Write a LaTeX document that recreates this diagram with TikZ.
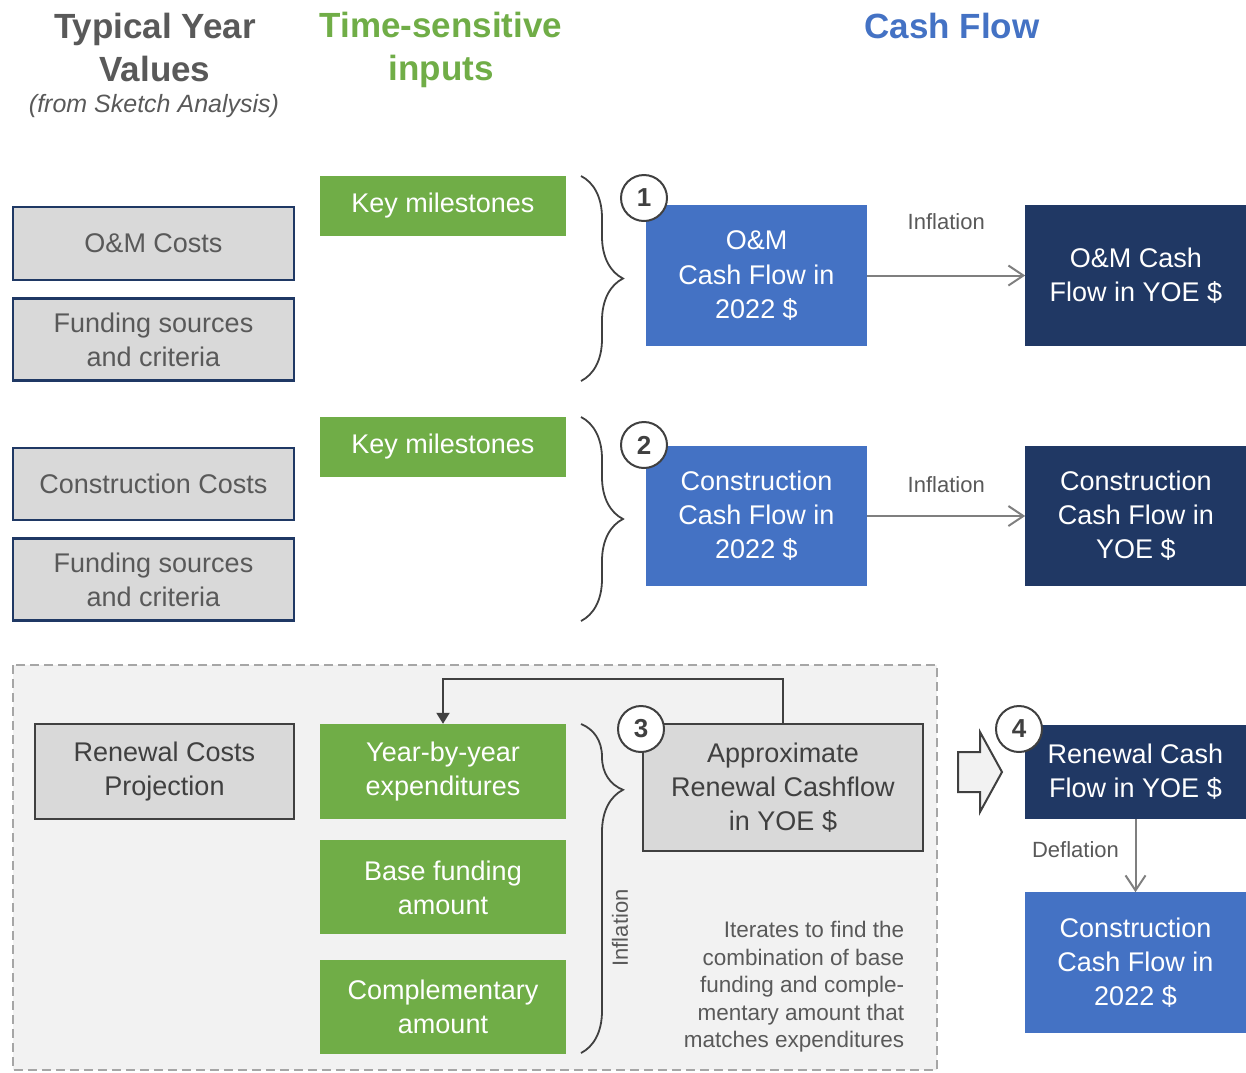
\documentclass[tikz,border=0pt]{standalone}
\usepackage{fontspec}
\setmainfont{Liberation Sans}
\usepackage{xcolor}
\definecolor{tygray}{HTML}{595959}
\definecolor{darkline}{HTML}{404040}
\definecolor{navyline}{HTML}{1F3864}
\definecolor{navyfill}{HTML}{203864}
\definecolor{boxgray}{HTML}{D9D9D9}
\definecolor{ingreen}{HTML}{70AD47}
\definecolor{cfblue}{HTML}{4472C4}
\definecolor{regionfill}{HTML}{F2F2F2}
\definecolor{dashgray}{HTML}{A6A6A6}
\definecolor{arrowgray}{HTML}{7F7F7F}
\usetikzlibrary{positioning,arrows.meta,decorations.pathreplacing}

\begin{document}
\begin{tikzpicture}[x=1pt, y=-1pt,
  body/.style={font=\fontsize{27}{34}\selectfont, align=center, inner sep=0pt},
  costbox/.style={body, draw=navyline, line width=2.5pt, fill=boxgray, text=tygray, minimum width=281pt},
  greybox/.style={body, draw=darkline, line width=2.5pt, fill=boxgray, text=darkline},
  inputbox/.style={body, fill=ingreen, text=white, minimum width=246pt},
  cashbox/.style={body, fill=cfblue, text=white, minimum width=221pt},
  yoebox/.style={body, fill=navyfill, text=white, minimum width=221pt},
  numc/.style={circle, draw=darkline, line width=2pt, fill=white, minimum size=46pt, inner sep=0pt, text=darkline, font=\bfseries\fontsize{26}{26}\selectfont},
  head/.style={font=\bfseries\fontsize{35}{43}\selectfont, align=center, inner sep=0pt},
  lbl/.style={text=tygray, font=\fontsize{22}{26}\selectfont, inner sep=0pt},
  flow/.style={draw=arrowgray, line width=2pt, -{Straight Barb[length=15pt,width=20pt]}},
  brc/.style={decorate, decoration={brace, amplitude=42pt}, draw=darkline, line width=1.8pt}]

\useasboundingbox (0,0) rectangle (1246,1072);

% renewal region
\draw[fill=regionfill, draw=dashgray, line width=2pt, dash pattern=on 9pt off 5pt] (13,665) rectangle (937,1070);

% headings
\node[head, text=tygray] (tyv) at (155,47.5) {Typical Year\\Values};
\node[text=tygray, inner sep=0pt, font=\itshape\fontsize{25}{30}\selectfont] (fsa) at (154,106) {(from Sketch Analysis)};
\node[head, text=ingreen] (tsi) at (441,49.5) {Time-sensitive\\inputs};
\node[head, text=cfblue] (cf) at (952,26) {Cash Flow};

% typical year values
\node[costbox, minimum height=73pt] (om) at (153.5,243.5) {O\&M Costs};
\node[costbox, minimum height=82pt, below=16pt of om] (fs1) {Funding sources\\and criteria};
\node[costbox, minimum height=72pt] (cc) at (153.5,484) {Construction Costs};
\node[costbox, minimum height=82pt, below=16pt of cc] (fs2) {Funding sources\\and criteria};
\node[greybox, minimum width=259pt, minimum height=95pt] (rcp) at (164.5,771.5) {Renewal Costs\\Projection};

% time-sensitive inputs
\node[inputbox, minimum height=60pt] (km1) at (443,206) {Key milestones};
\node[inputbox, minimum height=60pt] (km2) at (443,446.5) {Key milestones};
\node[inputbox, minimum height=95pt] (yby) at (443,771.5) {Year-by-year\\expenditures};
\node[inputbox, minimum height=94pt, below=21pt of yby] (base) {Base funding\\amount};
\node[inputbox, minimum height=94pt, below=25pt of base] (comp) {Complementary\\amount};

\draw[brc] (581,176) -- (581,381);
\draw[brc] (581,417) -- (581,621);
\draw[brc, decoration={aspect=0.2}] (581,724) -- (581,1053);

% cash flow
\node[cashbox, minimum height=141pt] (om22) at (756.5,275.5) {O\&M\\Cash Flow in\\2022 \$};
\node[yoebox, minimum height=141pt, right=158pt of om22] (omyoe) {O\&M Cash\\Flow in YOE \$};
\node[cashbox, minimum height=140pt] (cc22) at (756.5,516) {Construction\\Cash Flow in\\2022 \$};
\node[yoebox, minimum height=140pt, right=158pt of cc22] (ccyoe) {Construction\\Cash Flow in\\YOE \$};
\node[greybox, minimum width=280pt, minimum height=127pt] (apx) at (783,787.5) {Approximate\\Renewal Cashflow\\in YOE \$};
\node[yoebox, minimum height=94pt] (rnyoe) at (1135.5,772) {Renewal Cash\\Flow in YOE \$};
\node[cashbox, minimum height=141pt, below=73pt of rnyoe] (cc22b) {Construction\\Cash Flow in\\2022 \$};

\draw[flow] (om22) -- (omyoe) node[lbl, midway, yshift=54pt] (inf1) {Inflation};
\draw[flow] (cc22) -- (ccyoe) node[lbl, midway, yshift=31pt] (inf2) {Inflation};
\draw[flow] (rnyoe) -- (cc22b) node[lbl, midway, xshift=-60pt, yshift=6pt] (defl) {Deflation};
\draw[darkline, line width=2pt, -{Triangle[length=11pt,width=13pt]}] (apx.north) -- ++(0,-44) -| (yby.north);

\node[lbl, rotate=90] (inf3) at (620,928) {Inflation};
\node[lbl, align=right, font=\fontsize{22.5}{27.5}\selectfont] (iter) at (794,987)
  {Iterates to find the\\combination of base\\funding and comple-\\mentary amount that\\matches expenditures};

% block arrow into step 4
\draw[draw=darkline, fill=regionfill, line width=2pt, line join=miter]
  (958,752) -- (980,752) -- (980,732) -- (1002,772) -- (980,812) -- (980,792) -- (958,792) -- cycle;

% step numbers
\node[numc] (n1) at (644,198) {1};
\node[numc] (n2) at (644,445) {2};
\node[numc] (n3) at (641,729) {3};
\node[numc] (n4) at (1019,729) {4};
\end{tikzpicture}
\end{document}
